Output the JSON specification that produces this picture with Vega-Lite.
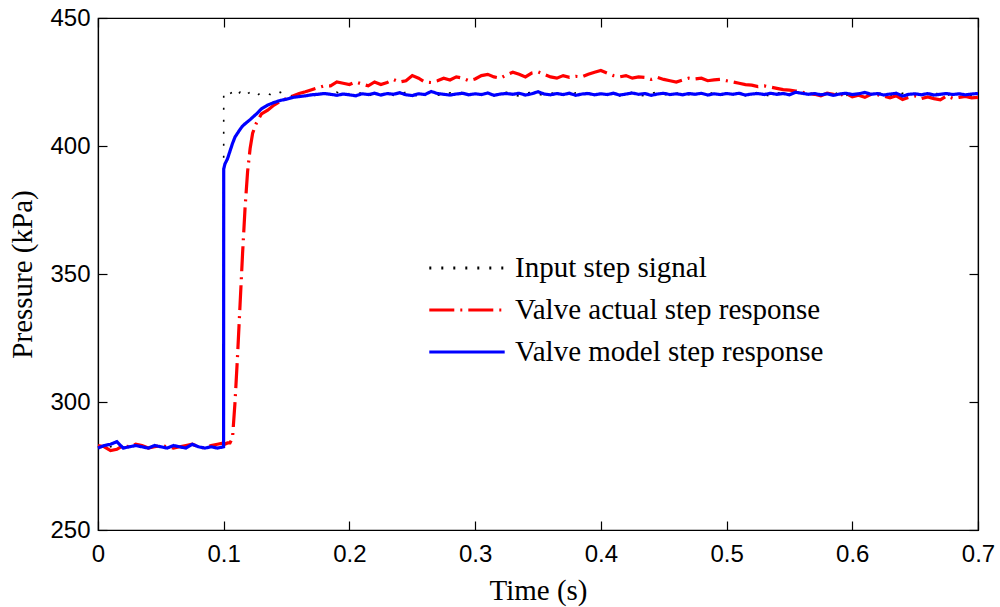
{
  "$schema": "https://vega.github.io/schema/vega-lite/v6.json",
  "width": 880,
  "height": 512,
  "autosize": "none",
  "padding": {"left": 98, "top": 18, "right": 22, "bottom": 77},
  "background": "white",
  "config": {
    "view": {"stroke": "black", "strokeWidth": 1.2},
    "axis": {
      "grid": false,
      "labelFont": "Liberation Sans",
      "labelFontSize": 24,
      "labelColor": "black",
      "labelFlush": false,
      "titleFont": "Liberation Serif",
      "titleFontSize": 29,
      "titleFontWeight": "normal",
      "titleColor": "black",
      "domainColor": "black",
      "domainWidth": 1.2,
      "tickColor": "black",
      "tickWidth": 1.2,
      "tickSize": -9
    },
    "legend": {
      "labelFont": "Liberation Serif",
      "labelFontSize": 29,
      "labelColor": "black"
    }
  },
  "data": {
    "values": [
      {"t":0,"i":282.5,"a":283,"m":282},
      {"t":0.005,"i":282,"a":282.5,"m":283},
      {"t":0.01,"i":282.5,"a":281,"m":283.5},
      {"t":0.015,"i":283,"a":281.5,"m":284.5},
      {"t":0.02,"i":282.5,"a":283,"m":282},
      {"t":0.025,"i":282,"a":282.5,"m":282.5},
      {"t":0.03,"i":283,"a":283.5,"m":283},
      {"t":0.035,"i":282.5,"a":283,"m":282.5},
      {"t":0.04,"i":282,"a":282,"m":282},
      {"t":0.045,"i":283,"a":282.5,"m":283},
      {"t":0.05,"i":282.5,"a":283,"m":282.5},
      {"t":0.055,"i":282,"a":282.5,"m":282},
      {"t":0.06,"i":283,"a":282,"m":283},
      {"t":0.065,"i":282.5,"a":282.5,"m":282.5},
      {"t":0.07,"i":282,"a":283,"m":282},
      {"t":0.075,"i":283.5,"a":283.5,"m":283.5},
      {"t":0.08,"i":282.5,"a":282.5,"m":282.5},
      {"t":0.085,"i":282,"a":282,"m":282},
      {"t":0.09,"i":283,"a":283,"m":282.5},
      {"t":0.095,"i":282.5,"a":283.5,"m":282},
      {"t":0.0999,"i":282.5,"a":284,"m":282.5},
      {"t":0.1,"i":420,"a":283.5,"m":391},
      {"t":0.101,"i":420.5,"a":283.5,"m":393},
      {"t":0.103,"i":419.5,"a":284,"m":395},
      {"t":0.105,"i":420.5,"a":284,"m":398},
      {"t":0.107,"i":421,"a":286,"m":401},
      {"t":0.109,"i":419.5,"a":300,"m":403.5},
      {"t":0.111,"i":420,"a":318,"m":405},
      {"t":0.113,"i":421,"a":338,"m":406.5},
      {"t":0.115,"i":420,"a":358,"m":407.8},
      {"t":0.117,"i":419.5,"a":376,"m":408.7},
      {"t":0.119,"i":420.5,"a":390,"m":409.5},
      {"t":0.121,"i":421,"a":399,"m":410.3},
      {"t":0.123,"i":420,"a":405,"m":411.2},
      {"t":0.126,"i":419.5,"a":409,"m":412.5},
      {"t":0.13,"i":421,"a":412.5,"m":414.5},
      {"t":0.135,"i":420.5,"a":414,"m":416},
      {"t":0.14,"i":419.5,"a":416,"m":417},
      {"t":0.145,"i":421,"a":417.5,"m":417.8},
      {"t":0.15,"i":420,"a":418.5,"m":418.3},
      {"t":0.155,"i":419.5,"a":419.5,"m":419},
      {"t":0.16,"i":420.5,"a":420.5,"m":419.3},
      {"t":0.165,"i":421,"a":421.2,"m":419.6},
      {"t":0.17,"i":420,"a":422,"m":420},
      {"t":0.175,"i":419.5,"a":422.8,"m":420.2},
      {"t":0.18,"i":420.5,"a":423.5,"m":420.5},
      {"t":0.185,"i":420,"a":423.5,"m":420.2},
      {"t":0.19,"i":421,"a":425,"m":419.8},
      {"t":0.195,"i":419.8,"a":424.5,"m":420.3},
      {"t":0.2,"i":420.5,"a":424,"m":420},
      {"t":0.205,"i":420,"a":425,"m":419.6},
      {"t":0.21,"i":421,"a":424.2,"m":420.4},
      {"t":0.215,"i":419.5,"a":423.5,"m":420.1},
      {"t":0.22,"i":420.5,"a":425,"m":420.6},
      {"t":0.225,"i":420,"a":424,"m":419.9},
      {"t":0.23,"i":421,"a":424.8,"m":420.5},
      {"t":0.235,"i":419.8,"a":426,"m":420.2},
      {"t":0.24,"i":420.3,"a":425,"m":420.8},
      {"t":0.245,"i":421,"a":425.5,"m":420},
      {"t":0.25,"i":420,"a":427.5,"m":419.7},
      {"t":0.255,"i":419.5,"a":426.5,"m":420.4},
      {"t":0.26,"i":420.5,"a":425,"m":420.1},
      {"t":0.265,"i":421,"a":424.8,"m":421.3},
      {"t":0.27,"i":420,"a":425.5,"m":420.5},
      {"t":0.275,"i":419.6,"a":426.5,"m":420.2},
      {"t":0.28,"i":420.8,"a":425.8,"m":419.9},
      {"t":0.285,"i":420.2,"a":427,"m":420.3},
      {"t":0.29,"i":421,"a":426.5,"m":420.6},
      {"t":0.295,"i":419.8,"a":425.5,"m":420},
      {"t":0.3,"i":420.5,"a":426.2,"m":420.4},
      {"t":0.305,"i":420,"a":427.5,"m":420.1},
      {"t":0.31,"i":421,"a":428,"m":420.7},
      {"t":0.315,"i":419.6,"a":427,"m":419.8},
      {"t":0.32,"i":420.4,"a":426.5,"m":420.3},
      {"t":0.325,"i":421,"a":427.8,"m":420.5},
      {"t":0.33,"i":420,"a":428.8,"m":420.2},
      {"t":0.335,"i":419.5,"a":428,"m":420.6},
      {"t":0.34,"i":420.6,"a":427,"m":419.9},
      {"t":0.345,"i":421,"a":428.5,"m":420.4},
      {"t":0.35,"i":420.2,"a":429,"m":421.2},
      {"t":0.355,"i":419.8,"a":428,"m":420.3},
      {"t":0.36,"i":420.5,"a":427,"m":420},
      {"t":0.365,"i":421,"a":426.5,"m":420.5},
      {"t":0.37,"i":420,"a":427.5,"m":420.1},
      {"t":0.375,"i":419.6,"a":426.8,"m":420.6},
      {"t":0.38,"i":420.8,"a":427.2,"m":419.8},
      {"t":0.385,"i":420.2,"a":427,"m":420.3},
      {"t":0.39,"i":421,"a":428,"m":420.5},
      {"t":0.395,"i":419.7,"a":428.8,"m":420},
      {"t":0.4,"i":420.5,"a":429.5,"m":420.4},
      {"t":0.405,"i":420,"a":428.5,"m":420.1},
      {"t":0.41,"i":421,"a":427.5,"m":420.6},
      {"t":0.415,"i":419.6,"a":427,"m":419.9},
      {"t":0.42,"i":420.4,"a":427.5,"m":420.3},
      {"t":0.425,"i":421,"a":426.5,"m":420.7},
      {"t":0.43,"i":420,"a":427,"m":420.2},
      {"t":0.435,"i":419.5,"a":426.8,"m":420.5},
      {"t":0.44,"i":420.6,"a":426,"m":419.8},
      {"t":0.445,"i":421,"a":426.8,"m":420.3},
      {"t":0.45,"i":420.2,"a":426,"m":420.6},
      {"t":0.455,"i":419.8,"a":425.5,"m":420.1},
      {"t":0.46,"i":420.5,"a":425,"m":420.4},
      {"t":0.465,"i":421,"a":425.8,"m":420},
      {"t":0.47,"i":420,"a":426.5,"m":420.5},
      {"t":0.475,"i":419.6,"a":426.2,"m":420.2},
      {"t":0.48,"i":420.8,"a":426.5,"m":420.6},
      {"t":0.485,"i":420.2,"a":425.5,"m":419.9},
      {"t":0.49,"i":421,"a":425.8,"m":420.4},
      {"t":0.495,"i":419.7,"a":426,"m":420.1},
      {"t":0.5,"i":420.5,"a":425.5,"m":420.5},
      {"t":0.505,"i":420,"a":425,"m":420.2},
      {"t":0.51,"i":421,"a":424.5,"m":420.6},
      {"t":0.515,"i":419.6,"a":424,"m":419.9},
      {"t":0.52,"i":420.4,"a":423.8,"m":420.3},
      {"t":0.525,"i":421,"a":423.2,"m":420.5},
      {"t":0.53,"i":420,"a":423.5,"m":420.1},
      {"t":0.535,"i":419.5,"a":423,"m":420.6},
      {"t":0.54,"i":420.6,"a":422.5,"m":420.2},
      {"t":0.545,"i":421,"a":422,"m":420.5},
      {"t":0.55,"i":420.2,"a":421.8,"m":420},
      {"t":0.555,"i":419.8,"a":421.5,"m":421},
      {"t":0.56,"i":420.5,"a":421,"m":420.6},
      {"t":0.565,"i":421,"a":420.5,"m":420.2},
      {"t":0.57,"i":420,"a":420.2,"m":420.5},
      {"t":0.575,"i":419.6,"a":419.6,"m":420},
      {"t":0.58,"i":420.8,"a":420.6,"m":420.4},
      {"t":0.585,"i":420.2,"a":420.2,"m":419.8},
      {"t":0.59,"i":421,"a":419.8,"m":420.3},
      {"t":0.595,"i":419.7,"a":420.5,"m":420.6},
      {"t":0.6,"i":420.5,"a":419.2,"m":420.1},
      {"t":0.605,"i":420,"a":419.8,"m":420.4},
      {"t":0.61,"i":421.5,"a":419,"m":420.9},
      {"t":0.615,"i":419.6,"a":420.2,"m":420.2},
      {"t":0.62,"i":420.4,"a":420,"m":420.5},
      {"t":0.625,"i":421,"a":419.5,"m":419.9},
      {"t":0.63,"i":420,"a":418.8,"m":420.3},
      {"t":0.635,"i":419.5,"a":419.6,"m":420.6},
      {"t":0.64,"i":420.6,"a":418.2,"m":419.5},
      {"t":0.645,"i":421,"a":419,"m":420.2},
      {"t":0.65,"i":420.2,"a":419.5,"m":420.4},
      {"t":0.655,"i":419.8,"a":418.5,"m":420},
      {"t":0.66,"i":420.5,"a":419.2,"m":420.5},
      {"t":0.665,"i":421,"a":418.5,"m":419.9},
      {"t":0.67,"i":420,"a":418,"m":420.2},
      {"t":0.675,"i":419.6,"a":419.5,"m":420.5},
      {"t":0.68,"i":420.8,"a":418.6,"m":420.1},
      {"t":0.685,"i":420.2,"a":419,"m":420.4},
      {"t":0.69,"i":421,"a":419.4,"m":420},
      {"t":0.695,"i":419.7,"a":418.8,"m":420.3},
      {"t":0.7,"i":420.5,"a":419,"m":420.5}
    ]
  },
  "transform": [{"fold": ["i", "a", "m"], "as": ["k", "v"]}],
  "encoding": {
    "x": {"field": "t", "type": "quantitative", "scale": {"domain": [0, 0.7], "nice": false, "zero": false}},
    "y": {"field": "v", "type": "quantitative", "scale": {"domain": [250, 450], "nice": false, "zero": false}},
    "color": {
      "field": "k", "type": "nominal",
      "scale": {"domain": ["i", "a", "m"], "range": ["#000000", "#ff0000", "#0000ff"]},
      "legend": {
        "orient": "none", "legendX": 353, "legendY": 234, "padding": 0,
        "title": null,
        "symbolType": "M-2.6,0H2.6", "symbolSize": 841, "symbolStrokeWidth": 3,
        "labelFont": "Liberation Serif", "labelFontSize": 29, "labelColor": "black",
        "labelOffset": 32, "labelLimit": 0, "rowPadding": 11,
        "labelExpr": "datum.label == 'i' ? 'Input step signal' : datum.label == 'a' ? 'Valve actual step response' : 'Valve model step response'"
      }
    },
    "strokeDash": {
      "field": "k", "type": "nominal",
      "scale": {"domain": ["i", "a", "m"], "range": [[2, 10], [25, 6, 2, 6], [1, 0]]},
      "legend": {
        "orient": "none", "legendX": 353, "legendY": 234, "padding": 0,
        "title": null,
        "symbolType": "M-2.6,0H2.6", "symbolSize": 841, "symbolStrokeWidth": 3,
        "labelFont": "Liberation Serif", "labelFontSize": 29, "labelColor": "black",
        "labelOffset": 32, "labelLimit": 0, "rowPadding": 11,
        "labelExpr": "datum.label == 'i' ? 'Input step signal' : datum.label == 'a' ? 'Valve actual step response' : 'Valve model step response'"
      }
    }
  },
  "layer": [
    {
      "transform": [{"filter": "datum.k == 'i'"}],
      "mark": {"type": "line", "strokeWidth": 1.6},
      "encoding": {
        "x": {"field": "t", "type": "quantitative", "title": "Time (s)",
          "axis": {"orient": "bottom", "values": [0, 0.1, 0.2, 0.3, 0.4, 0.5, 0.6, 0.7], "format": "~g", "labelFlush": false, "labelPadding": 21, "titlePadding": 10}},
        "y": {"field": "v", "type": "quantitative", "title": "Pressure (kPa)",
          "axis": {"orient": "left", "values": [250, 300, 350, 400, 450], "labelFlush": false, "labelPadding": 17, "titlePadding": 12}}
      }
    },
    {
      "transform": [{"filter": "datum.k == 'a'"}],
      "mark": {"type": "line", "strokeWidth": 3.2},
      "encoding": {
        "x": {"field": "t", "type": "quantitative", "title": null,
          "axis": {"orient": "top", "values": [0, 0.1, 0.2, 0.3, 0.4, 0.5, 0.6, 0.7], "labels": false}},
        "y": {"field": "v", "type": "quantitative", "title": null,
          "axis": {"orient": "right", "values": [250, 300, 350, 400, 450], "labels": false}}
      }
    },
    {
      "transform": [{"filter": "datum.k == 'm'"}],
      "mark": {"type": "line", "strokeWidth": 3.2},
      "encoding": {
        "x": {"field": "t", "type": "quantitative", "axis": null},
        "y": {"field": "v", "type": "quantitative", "axis": null}
      }
    }
  ],
  "resolve": {"axis": {"x": "independent", "y": "independent"}}
}
